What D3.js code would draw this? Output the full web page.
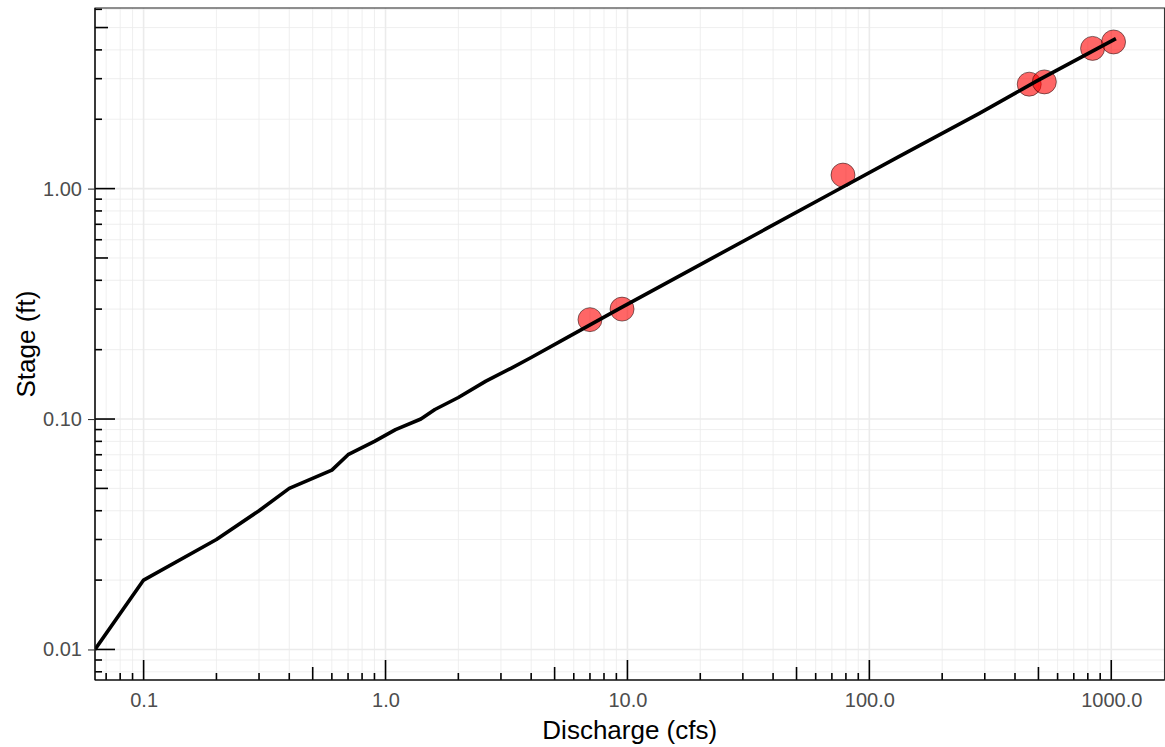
<!DOCTYPE html>
<html>
<head>
<meta charset="utf-8">
<script src="https://cdn.jsdelivr.net/npm/d3@7"></script>
<style>
  html, body { margin: 0; padding: 0; background: #ffffff; }
  svg { display: block; }
  text { font-family: "Liberation Sans", Arial, sans-serif; }
</style>
</head>
<body>
<svg id="chart" width="1165" height="747"></svg>
<script>
// Rating curve: stage (ft) against discharge (cfs); discharge 0 sits at the left edge
const ratingDischarge = [0, 0.1, 0.2, 0.3, 0.4, 0.6, 0.7, 0.9, 1.1, 1.4, 1.6, 2.0, 2.6, 3.3, 4.0, 5.6, 9.3, 20, 37.5, 70.6, 133, 285, 489, 1045];
const ratingStage     = [0.01, 0.02, 0.03, 0.04, 0.05, 0.06, 0.07, 0.08, 0.09, 0.10, 0.11, 0.124, 0.146, 0.166, 0.185, 0.225, 0.302, 0.468, 0.670, 0.962, 1.38, 2.12, 2.92, 4.48];

// Field measurements
const measDischarge = [7.0, 9.5, 77.8, 458, 529, 837, 1022];
const measStage     = [0.27, 0.30, 1.145, 2.84, 2.905, 4.06, 4.33];

// Axis breaks and labels
const xBreaks = [0.1, 1, 10, 100, 1000];
const xLabels = ["0.1", "1.0", "10.0", "100.0", "1000.0"];
const yBreaks = [0.01, 0.1, 1];
const yLabels = ["0.01", "0.10", "1.00"];

const svg = d3.select("#chart");
const panel = { left: 95, top: 8, right: 1164.5, bottom: 680 };

// log-space extent of finite positive values, padded 5% each side
function paddedLogDomain(values) {
  const logs = values.filter(v => v > 0).map(Math.log10);
  const lo = d3.min(logs), hi = d3.max(logs);
  const pad = 0.05 * (hi - lo);
  return [Math.pow(10, lo - pad), Math.pow(10, hi + pad)];
}

const x = d3.scaleLog()
  .domain(paddedLogDomain(ratingDischarge.concat(measDischarge)))
  .range([panel.left, panel.right]);
const y = d3.scaleLog()
  .domain(paddedLogDomain(ratingStage.concat(measStage)))
  .range([panel.bottom, panel.top]);

const rating = ratingDischarge.map((q, i) => ({ q, h: ratingStage[i] }));
const meas = measDischarge.map((q, i) => ({ q, h: measStage[i] }));

// every 1..9 x 10^n value inside a domain
function logSteps(domain) {
  const out = [];
  const a = Math.floor(Math.log10(domain[0])), b = Math.ceil(Math.log10(domain[1]));
  for (let n = a; n <= b; n++) {
    for (let k = 1; k <= 9; k++) {
      const v = +(k * Math.pow(10, n)).toPrecision(6);
      if (v >= domain[0] && v <= domain[1]) out.push({ v, k });
    }
  }
  return out;
}
const xSteps = logSteps(x.domain());
const ySteps = logSteps(y.domain());

svg.append("defs").append("clipPath").attr("id", "panel-clip")
  .append("rect")
  .attr("x", panel.left).attr("y", panel.top)
  .attr("width", panel.right - panel.left).attr("height", panel.bottom - panel.top);

// panel background
svg.append("rect")
  .attr("x", panel.left).attr("y", panel.top)
  .attr("width", panel.right - panel.left).attr("height", panel.bottom - panel.top)
  .attr("fill", "#ffffff");

const grid = svg.append("g").attr("stroke", "#EBEBEB").attr("fill", "none");
// minor grid
grid.selectAll("line.vminor").data(xSteps.filter(d => d.k !== 1)).join("line")
  .attr("class", "vminor")
  .attr("x1", d => x(d.v)).attr("x2", d => x(d.v))
  .attr("y1", panel.top).attr("y2", panel.bottom)
  .attr("stroke-width", 0.8);
grid.selectAll("line.hminor").data(ySteps.filter(d => d.k !== 1)).join("line")
  .attr("class", "hminor")
  .attr("y1", d => y(d.v)).attr("y2", d => y(d.v))
  .attr("x1", panel.left).attr("x2", panel.right)
  .attr("stroke-width", 0.8);
// major grid
grid.selectAll("line.vmajor").data(xSteps.filter(d => d.k === 1)).join("line")
  .attr("class", "vmajor")
  .attr("x1", d => x(d.v)).attr("x2", d => x(d.v))
  .attr("y1", panel.top).attr("y2", panel.bottom)
  .attr("stroke-width", 1.6);
grid.selectAll("line.hmajor").data(ySteps.filter(d => d.k === 1)).join("line")
  .attr("class", "hmajor")
  .attr("y1", d => y(d.v)).attr("y2", d => y(d.v))
  .attr("x1", panel.left).attr("x2", panel.right)
  .attr("stroke-width", 1.6);

const plot = svg.append("g").attr("clip-path", "url(#panel-clip)");

// measurement points
plot.selectAll("circle").data(meas).join("circle")
  .attr("cx", d => x(d.q)).attr("cy", d => y(d.h))
  .attr("r", 12)
  .attr("fill", "rgba(255,0,0,0.6)")
  .attr("stroke", "rgba(0,0,0,0.55)")
  .attr("stroke-width", 0.9);

// rating curve (zero discharge pinned to the panel's left edge)
const line = d3.line()
  .x(d => d.q > 0 ? x(d.q) : panel.left)
  .y(d => y(d.h));
plot.append("path").datum(rating)
  .attr("d", line)
  .attr("fill", "none")
  .attr("stroke", "#000000")
  .attr("stroke-width", 3.6)
  .attr("stroke-linejoin", "round");

// log ticks along bottom and left
const tickLen = k => k === 1 ? 20 : (k === 5 ? 13 : 7);
const lt = svg.append("g").attr("stroke", "#000000").attr("stroke-width", 1.6);
lt.selectAll("line.bx").data(xSteps).join("line")
  .attr("class", "bx")
  .attr("x1", d => x(d.v)).attr("x2", d => x(d.v))
  .attr("y1", panel.bottom).attr("y2", d => panel.bottom - tickLen(d.k));
lt.selectAll("line.ly").data(ySteps).join("line")
  .attr("class", "ly")
  .attr("y1", d => y(d.v)).attr("y2", d => y(d.v))
  .attr("x1", panel.left).attr("x2", d => panel.left + tickLen(d.k));

// panel border
svg.append("rect")
  .attr("x", panel.left).attr("y", panel.top)
  .attr("width", panel.right - panel.left).attr("height", panel.bottom - panel.top)
  .attr("fill", "none").attr("stroke", "#333333").attr("stroke-width", 1.1);

// axis lines
svg.append("line")
  .attr("x1", panel.left).attr("x2", panel.left)
  .attr("y1", panel.top).attr("y2", panel.bottom)
  .attr("stroke", "#000").attr("stroke-width", 1.2);
svg.append("line")
  .attr("x1", panel.left).attr("x2", panel.right)
  .attr("y1", panel.bottom).attr("y2", panel.bottom)
  .attr("stroke", "#000").attr("stroke-width", 1.2);

// y axis: outward ticks and labels
const yAxis = d3.axisLeft(y)
  .tickValues(yBreaks)
  .tickFormat((d, i) => yLabels[i])
  .tickSize(7)
  .tickPadding(6);
const gy = svg.append("g").attr("transform", `translate(${panel.left},0)`).call(yAxis);
gy.select(".domain").remove();
gy.selectAll(".tick line").attr("stroke", "#333333").attr("stroke-width", 1.1);
gy.selectAll(".tick text")
  .attr("fill", "#4D4D4D")
  .style("font-size", "20px")
  .style("font-family", "'Liberation Sans', Arial, sans-serif");

// x axis: labels only
const xAxis = d3.axisBottom(x)
  .tickValues(xBreaks)
  .tickFormat((d, i) => xLabels[i])
  .tickSize(0)
  .tickPadding(13);
const gx = svg.append("g").attr("transform", `translate(0,${panel.bottom})`).call(xAxis);
gx.select(".domain").remove();
gx.selectAll(".tick text")
  .attr("fill", "#4D4D4D")
  .style("font-size", "20px")
  .style("font-family", "'Liberation Sans', Arial, sans-serif");

// axis titles
svg.append("text")
  .attr("x", (panel.left + panel.right) / 2)
  .attr("y", 739)
  .attr("text-anchor", "middle")
  .attr("fill", "#000")
  .style("font-size", "26px")
  .text("Discharge (cfs)");
svg.append("text")
  .attr("transform", `translate(35,${(panel.top + panel.bottom) / 2}) rotate(-90)`)
  .attr("text-anchor", "middle")
  .attr("fill", "#000")
  .style("font-size", "26px")
  .text("Stage (ft)");
</script>
</body>
</html>
